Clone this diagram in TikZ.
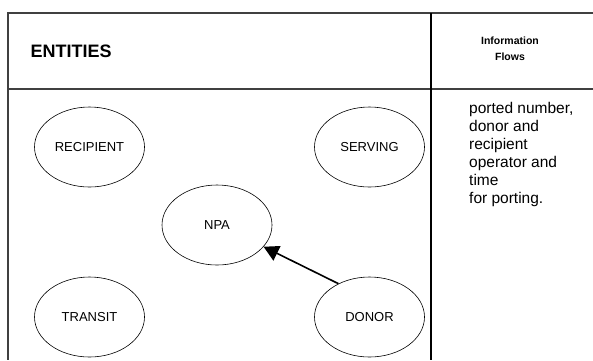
\documentclass[tikz,border=0pt]{standalone}
\usepackage{fontspec}
\setmainfont{Liberation Sans}
\usetikzlibrary{shapes.geometric,arrows.meta}
\begin{document}
\begin{tikzpicture}[x=1pt,y=-1pt,
  entity/.style={draw=black,line width=0.6pt,ellipse,minimum width=110pt,minimum height=80pt,inner sep=0pt,font=\fontsize{13}{15}\selectfont},
  rule/.style={draw=black!75,line width=1.3pt},
  divider/.style={draw=black,line width=1.8pt},
  flow/.style={draw=black,line width=1.6pt,-{Triangle[length=15pt,width=16pt]}}]
\useasboundingbox (0,0) rectangle (593,360);
\fill[white] (0,0) rectangle (593,360);
% table frame
\draw[rule] (593,13) -- (8,13) -- (8,360);
\draw[rule] (8,89) -- (593,89);
\draw[divider] (431,13) -- (431,360);
% headings
\node[anchor=west,font=\bfseries\fontsize{18}{20}\selectfont] (ent) at (27,51) {ENTITIES};
\node[align=center,font=\bfseries\fontsize{10.5}{16}\selectfont] (inf) at (510,49) {Information\\ Flows};
% flow description
\node[anchor=north west,align=left,inner sep=0pt,font=\fontsize{15.5}{18}\selectfont] (desc) at (469,102)
  {ported number,\\ donor and\\ recipient\\ operator and\\ time\\ for porting.};
% entities
\node[entity] (rec) at (89.5,147) {RECIPIENT};
\node[entity] (srv) at (369.5,147) {SERVING};
\node[entity] (npa) at (217,225) {NPA};
\node[entity] (tra) at (89.5,317) {TRANSIT};
\node[entity] (don) at (369.5,317) {DONOR};
% information flow
\draw[flow] (don.133) -- (npa.-25);
\end{tikzpicture}
\end{document}
